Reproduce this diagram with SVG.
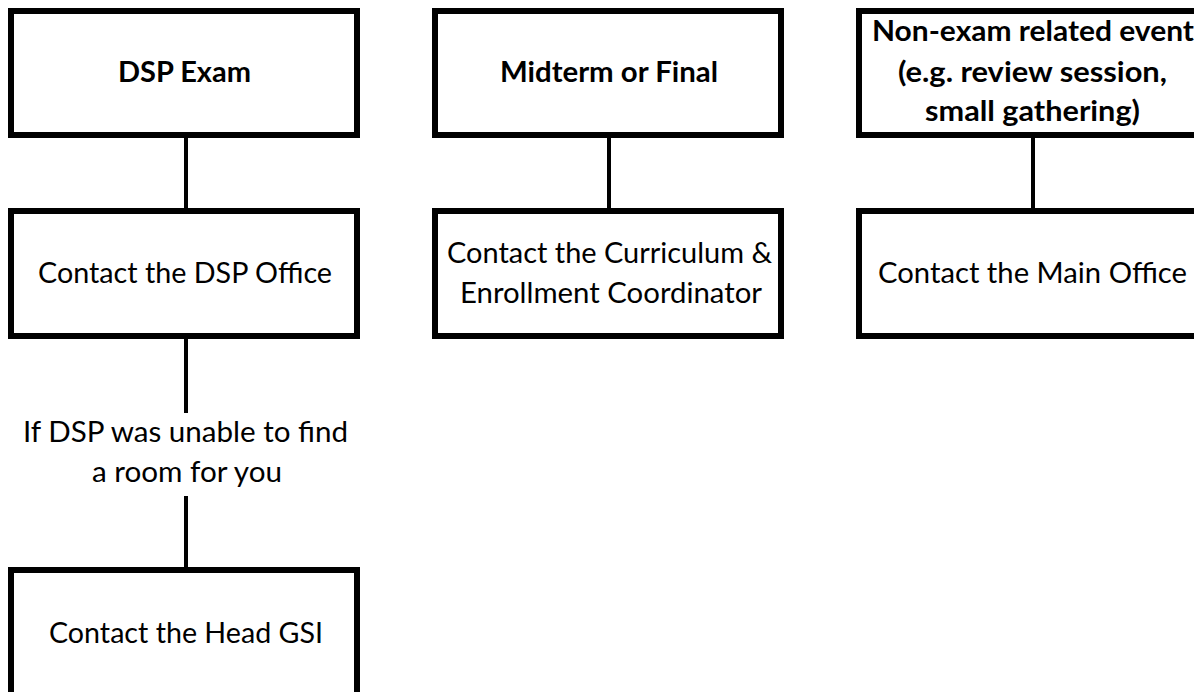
<svg xmlns="http://www.w3.org/2000/svg" width="1194" height="692" viewBox="0 0 1194 692">
<style>
.box{fill:#fff;stroke:#000;stroke-width:6}
.ln{stroke:#000;stroke-width:4;fill:none}
text{font-family:Lato,"Open Sans","Liberation Sans",sans-serif;font-size:29px;fill:#000;text-anchor:middle}
.b{font-weight:700}
</style>
<rect width="1194" height="692" fill="#fff"/>
<g id="connectors">
<line class="ln" x1="186" y1="138" x2="186" y2="209"/>
<line class="ln" x1="186" y1="339" x2="186" y2="413"/>
<line class="ln" x1="186" y1="496" x2="186" y2="568"/>
<line class="ln" x1="609" y1="138" x2="609" y2="209"/>
<line class="ln" x1="1033" y1="138" x2="1033" y2="209"/>
</g>
<g id="dsp-exam">
<rect class="box" x="11" y="11" width="346" height="124"/>
<text class="b" x="184.5" y="82" textLength="133" lengthAdjust="spacingAndGlyphs">DSP Exam</text>
</g>
<g id="midterm">
<rect class="box" x="435" y="11" width="346" height="124"/>
<text class="b" x="609" y="82" textLength="218" lengthAdjust="spacingAndGlyphs">Midterm or Final</text>
</g>
<g id="non-exam">
<rect class="box" x="859" y="11" width="346" height="124"/>
<text class="b" x="1033" y="41" textLength="322" lengthAdjust="spacingAndGlyphs">Non-exam related event</text>
<text class="b" x="1032.5" y="82" textLength="269" lengthAdjust="spacingAndGlyphs">(e.g. review session,</text>
<text class="b" x="1032.5" y="121" textLength="215" lengthAdjust="spacingAndGlyphs">small gathering)</text>
</g>
<g id="dsp-office">
<rect class="box" x="11" y="211" width="346" height="125"/>
<text x="185" y="283" textLength="294" lengthAdjust="spacingAndGlyphs">Contact the DSP Office</text>
</g>
<g id="curriculum">
<rect class="box" x="435" y="211" width="346" height="125"/>
<text x="609.5" y="263" textLength="325" lengthAdjust="spacingAndGlyphs">Contact the Curriculum &amp;</text>
<text x="611" y="303" textLength="302" lengthAdjust="spacingAndGlyphs">Enrollment Coordinator</text>
</g>
<g id="main-office">
<rect class="box" x="859" y="211" width="346" height="125"/>
<text x="1032.5" y="283" textLength="309" lengthAdjust="spacingAndGlyphs">Contact the Main Office</text>
</g>
<g id="dsp-unable">
<text x="185.5" y="442" textLength="325" lengthAdjust="spacingAndGlyphs">If DSP was unable to find</text>
<text x="187" y="482" textLength="190" lengthAdjust="spacingAndGlyphs">a room for you</text>
</g>
<g id="head-gsi">
<rect class="box" x="11" y="570" width="346" height="125"/>
<text x="186" y="643" textLength="274" lengthAdjust="spacingAndGlyphs">Contact the Head GSI</text>
</g>
</svg>
